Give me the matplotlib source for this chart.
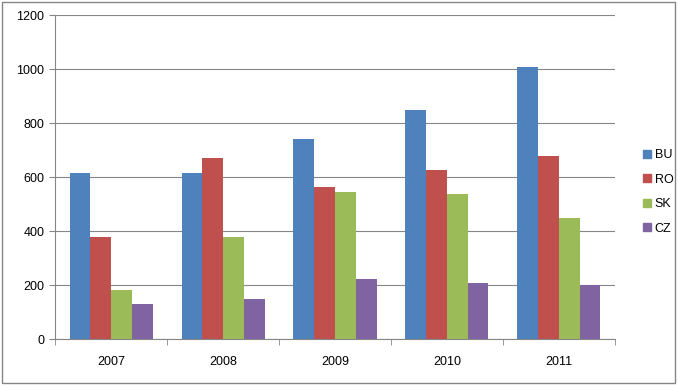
import matplotlib.pyplot as plt
import matplotlib.patches as mpatches
import numpy as np

years = ['2007', '2008', '2009', '2010', '2011']
BU = [616, 616, 742, 851, 1009]
RO = [379, 672, 563, 627, 680]
SK = [183, 379, 546, 538, 449]
CZ = [131, 149, 225, 209, 200]
series = ['BU', 'RO', 'SK', 'CZ']
colors = ['#4F81BD', '#C0504D', '#9BBB59', '#8064A2']

plt.rcParams['font.family'] = ['Liberation Sans', 'DejaVu Sans']

fig = plt.figure(figsize=(6.78, 3.85), dpi=100)
ax = fig.add_axes([55.3/678, 1 - 339.3/385, (614.7-55.3)/678, (339.3-15.3)/385])

x = np.arange(len(years))
w = 0.186
for i, (vals, name) in enumerate(zip([BU, RO, SK, CZ], series)):
    ax.bar(x + (i - 1.5)*w, vals, w, color=colors[i], label=name, zorder=3)

ax.set_xlim(-0.5, len(years) - 0.5)
ax.set_ylim(0, 1200)
ax.set_yticks(range(0, 1201, 200))
ax.set_xticks(x)
ax.set_xticklabels(years)
ax.set_xticks(np.arange(-0.5, len(years)), minor=True)
ax.tick_params(axis='x', which='major', length=0, pad=12, labelsize=9)
ax.tick_params(axis='x', which='minor', length=4, direction='out', color='#868686')
ax.tick_params(axis='y', length=4, color='#868686', labelsize=9, pad=4)
ax.yaxis.grid(True, color='#868686', linewidth=0.8, zorder=0)
for s in ['top', 'right']:
    ax.spines[s].set_visible(False)
for s in ['left', 'bottom']:
    ax.spines[s].set_color('#868686')

handles = [mpatches.Patch(color=c, label=n) for c, n in zip(colors, series)]
leg = fig.legend(handles=handles, loc='center left', bbox_to_anchor=(632/678, 1 - 192/385),
                 frameon=False, fontsize=9, handlelength=0.6, handleheight=0.6,
                 handletextpad=0.3, labelspacing=1.0)

fig.patches.append(mpatches.Rectangle((2/678, 2/385), 673/678, 381/385, transform=fig.transFigure,
                                      fill=False, edgecolor='#868686', linewidth=1))

fig.savefig('out.png', dpi=100)
